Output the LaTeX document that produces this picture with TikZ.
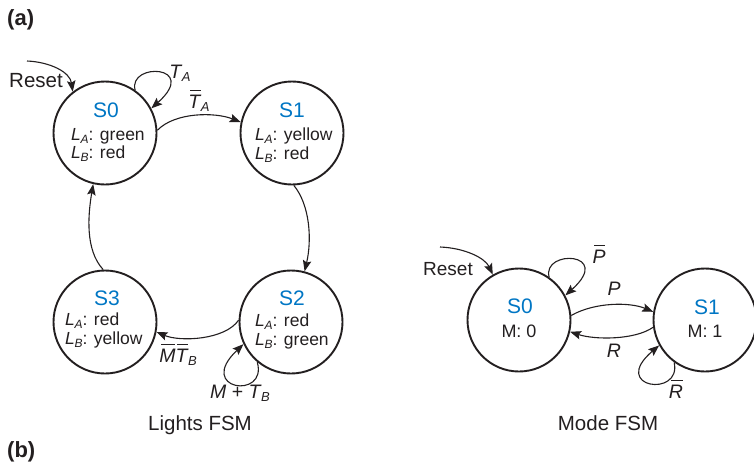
\documentclass[tikz,border=0pt]{standalone}
\usepackage{fontspec}
\setmainfont{Liberation Sans}
\usetikzlibrary{arrows.meta}
\definecolor{fsmblue}{RGB}{0,118,196}
\definecolor{ink}{RGB}{35,31,32}
\newlength\myovlw
\newcommand\fsz[1]{\fontsize{#1}{#1}\selectfont}
\newcommand\LL[1]{\textit{L}\kern-0.3pt\raisebox{-3.5pt}{\fsz{12}\textit{#1}}}
\newcommand\ovl[1]{\settowidth\myovlw{#1}\makebox[0pt][l]{\kern1.8pt\rule[16.6pt]{\dimexpr\myovlw-2.2pt\relax}{1.1pt}}#1}
\newcommand\Tsub[1]{\textit{T}\kern-0.5pt\raisebox{-3.8pt}{\fsz{13}\textit{#1}}}
\tikzset{
  state/.style={circle, draw=ink, line width=1.9pt, minimum size=103pt, inner sep=0pt},
  sname/.style={anchor=base, inner sep=0pt, text=fsmblue, font=\fsz{21}},
  sbody/.style={anchor=base west, inner sep=0pt, text=ink, font=\fsz{17.5}},
  mbody/.style={anchor=base, inner sep=0pt, text=ink, font=\fsz{18}},
  lab/.style={anchor=base, inner sep=0pt, text=ink, font=\fsz{19.5}},
  fsmcaption/.style={anchor=base, inner sep=0pt, text=ink, font=\fsz{20.5}},
  tag/.style={anchor=base west, inner sep=0pt, text=ink, font=\fsz{22}\bfseries},
  conn/.style={draw=ink, line width=1.1pt, -{Stealth[length=11pt,width=8.5pt,inset=2pt]}}
}
\begin{document}
\begin{tikzpicture}[x=1pt,y=-1pt]
\useasboundingbox (0,0) rectangle (754,463);
% tags
\node[tag] (ta) at (7,25) {(a)};
\node[tag] (tb) at (7,457) {(b)};
% Lights FSM states
\node[state] (s0) at (105,133) {};
\node[state] (s1) at (292,133) {};
\node[state] (s2) at (291,322) {};
\node[state] (s3) at (105,322) {};
\node[sname] (s0n) at (106,117) {S0};
\node[sbody] (s0a) at (71,140) {\LL{A}: green};
\node[sbody] (s0b) at (71,158) {\LL{B}: red};
\node[sname] (s1n) at (292,117) {S1};
\node[sbody] (s1a) at (255,140) {\LL{A}: yellow};
\node[sbody] (s1b) at (255,159) {\LL{B}: red};
\node[sname] (s2n) at (292,305) {S2};
\node[sbody] (s2a) at (255,326) {\LL{A}: red};
\node[sbody] (s2b) at (255,345) {\LL{B}: green};
\node[sname] (s3n) at (107,305) {S3};
\node[sbody] (s3a) at (65,325) {\LL{A}: red};
\node[sbody] (s3b) at (65,344) {\LL{B}: yellow};
% Reset
\node[anchor=base west, inner sep=0pt, text=ink, font=\fsz{20.5}] (rst) at (9,87) {Reset};
\coordinate (rst0) at (27,61);
\draw[conn] (rst0) .. controls (50,62) and (70,72) .. (s0.128);
% transitions
\draw[conn] (s0.55) .. controls (128,62) and (200,65) .. (s0.28);
\node[lab] (lta) at (180,78) {\Tsub{A}};
\draw[conn] (s0.3) .. controls (175,112) and (215,112) .. (s1.168);
\node[lab] (ltab) at (199,108) {\ovl{\textit{T}}\kern-0.5pt\raisebox{-3.8pt}{\fsz{13}\textit{A}}};
\draw[conn] (s1.272) .. controls (310,205) and (312,240) .. (s2.75);
\draw[conn] (s2.178) .. controls (225,340) and (180,342) .. (s3.-11);
\node[lab] (lmtb) at (178,362) {\ovl{\textit{M}}\ovl{\textit{T}}\kern-0.5pt\raisebox{-3.8pt}{\fsz{13}\textit{B}}};
\draw[conn] (s2.230) .. controls (268,400) and (195,390) .. (s2.205);
\node[lab] (lmt) at (240,398) {\textit{M} + \Tsub{B}};
\draw[conn] (s3.92) .. controls (85,250) and (88,215) .. (s0.257);
\node[fsmcaption] (lcap) at (200,430) {Lights FSM};
% Mode FSM
\node[state] (m0) at (519,320) {};
\node[state] (m1) at (705,320) {};
\node[sname] (m0n) at (520,313) {S0};
\node[mbody] (m0b) at (519,337) {M: 0};
\node[sname] (m1n) at (707,314) {S1};
\node[mbody] (m1b) at (705,337) {M: 1};
\node[anchor=base west, inner sep=0pt, text=ink, font=\fsz{19}] (mrst) at (423,275) {Reset};
\coordinate (mrst0) at (440,247);
\draw[conn] (mrst0) .. controls (465,248) and (485,258) .. (m0.120);
\draw[conn] (m0.55) .. controls (542,249) and (614,252) .. (m0.28);
\node[lab] (lpb) at (599,263) {\ovl{\textit{P}}};
\draw[conn] (m0.5) .. controls (595,302) and (630,302) .. (m1.171);
\node[lab] (lp) at (614,295) {\textit{P}};
\draw[conn] (m1.188) .. controls (635,340) and (595,340) .. (m0.-13);
\node[lab] (lr) at (614,357) {\textit{R}};
\draw[conn] (m1.234) .. controls (682,398) and (609,388) .. (m1.209);
\node[lab] (lrb) at (676,398) {\ovl{\textit{R}}};
\node[fsmcaption] (mcap) at (608,430) {Mode FSM};
\end{tikzpicture}
\end{document}
